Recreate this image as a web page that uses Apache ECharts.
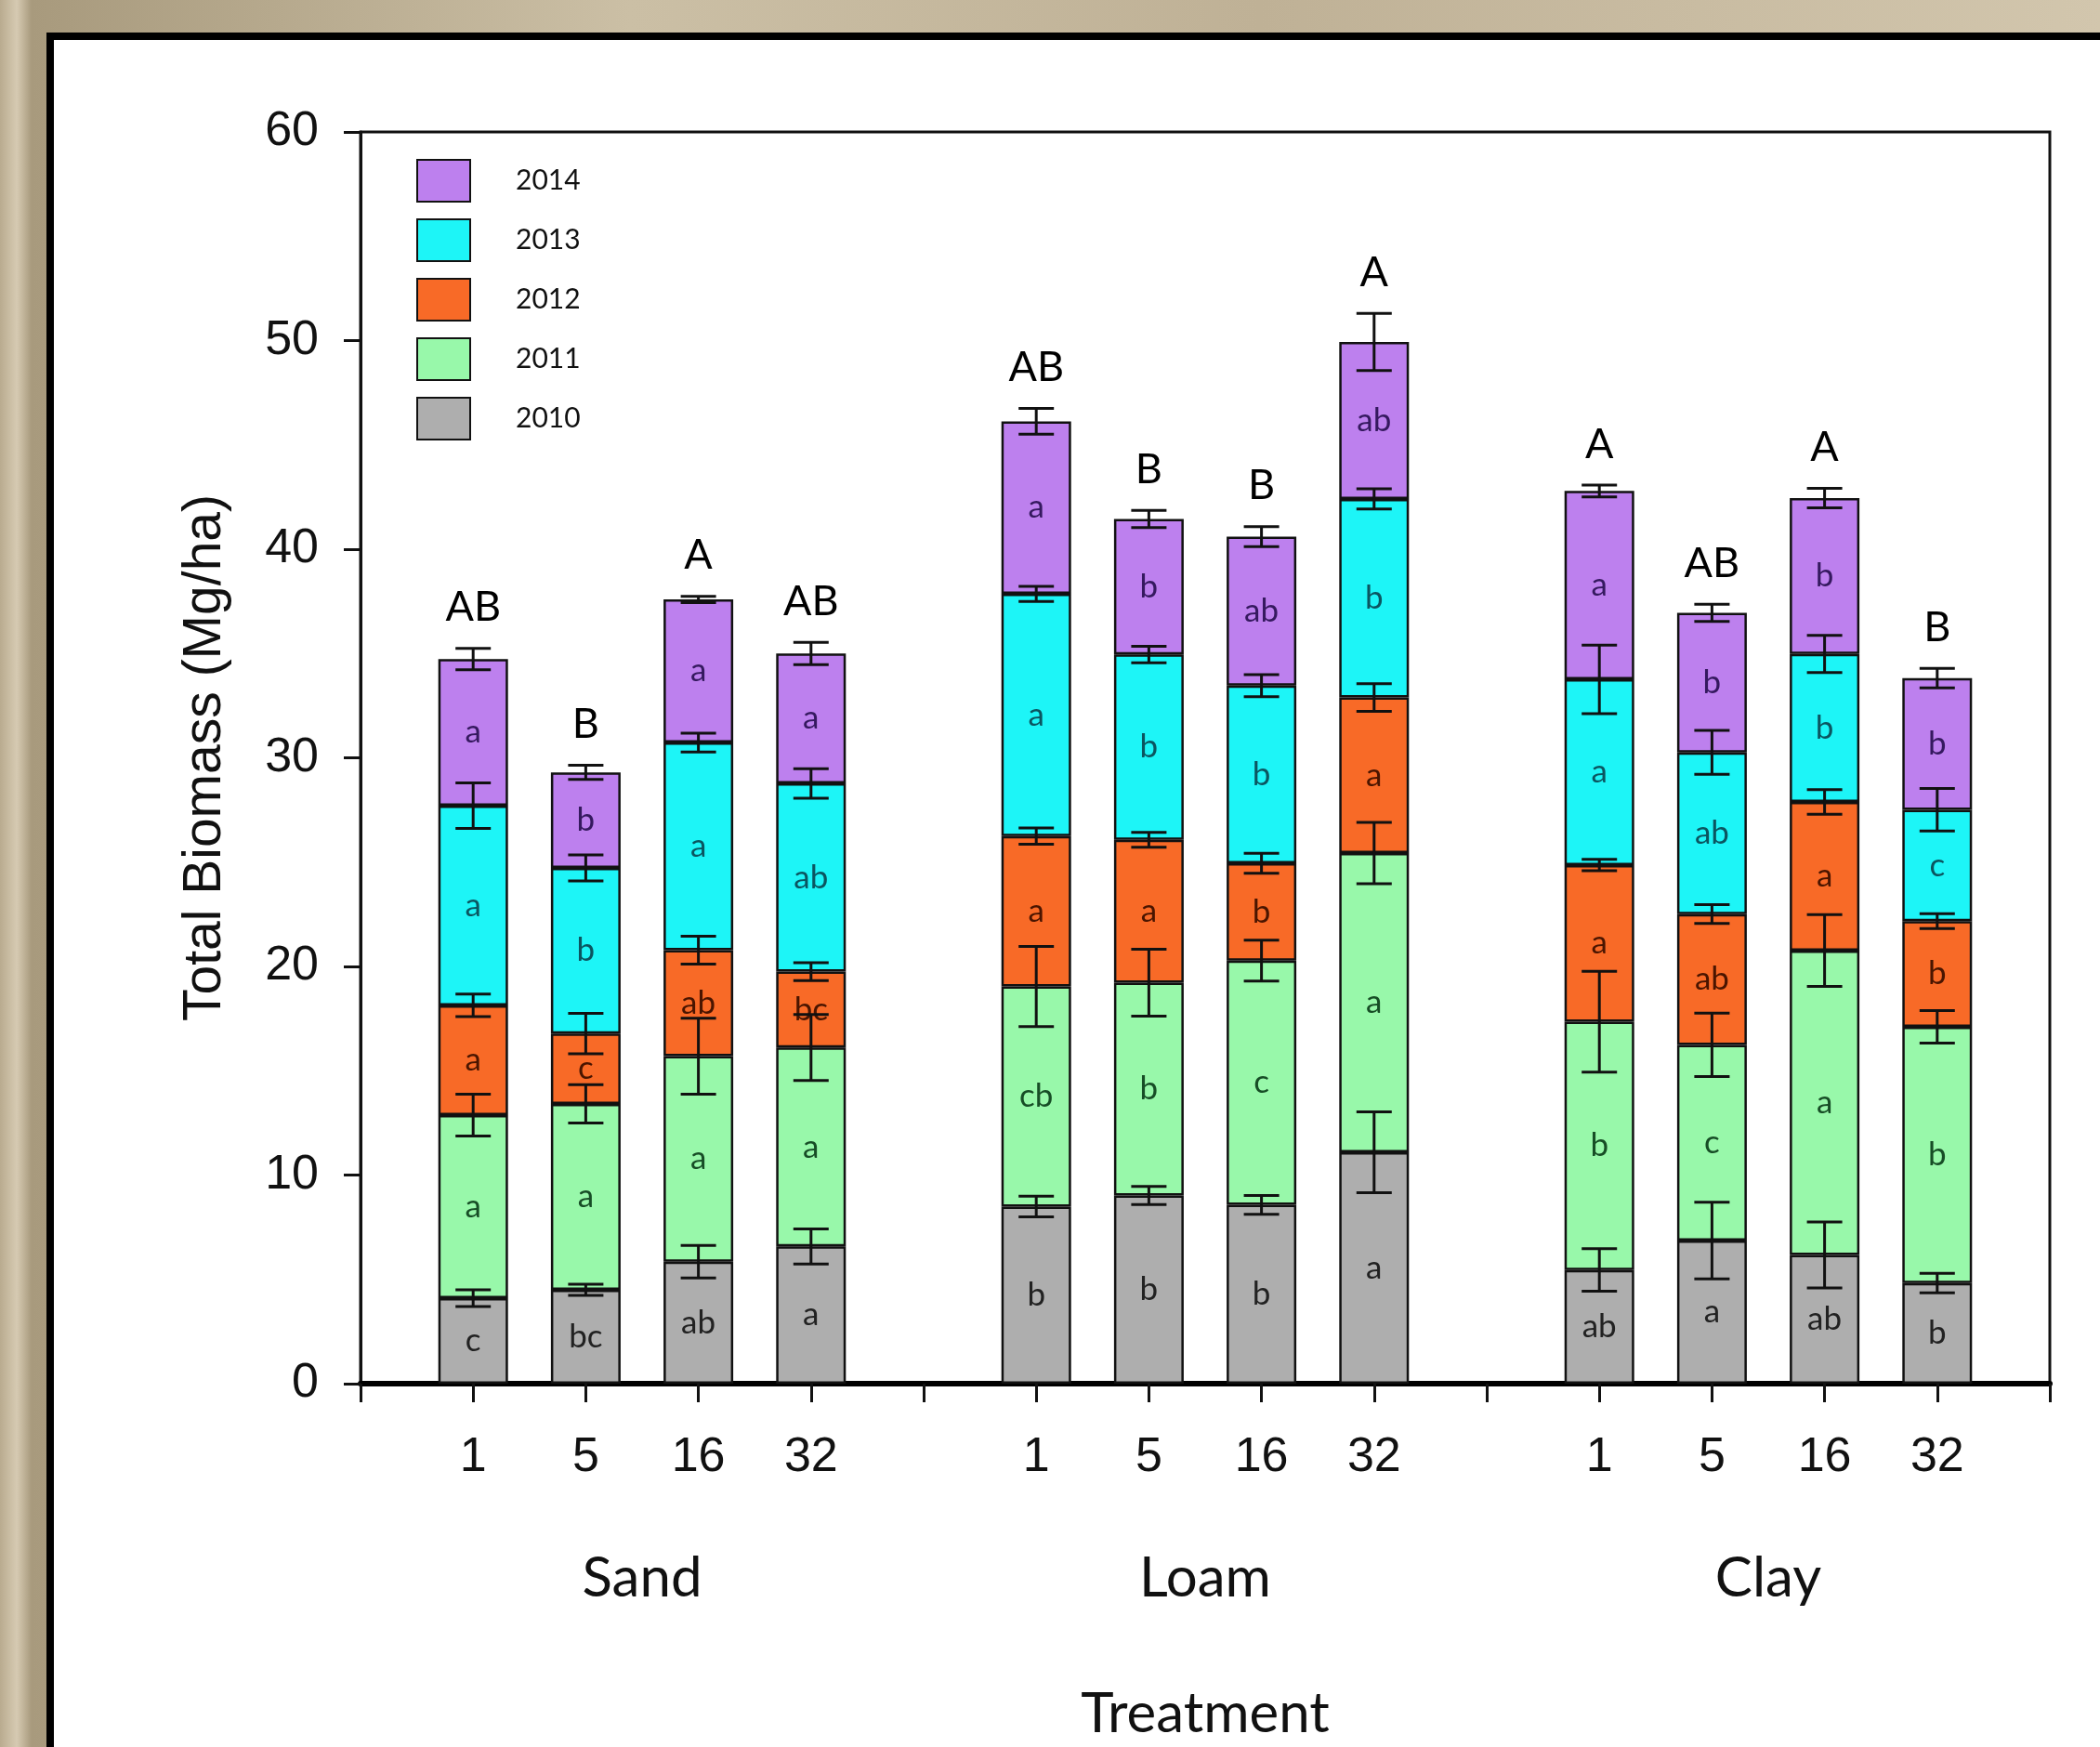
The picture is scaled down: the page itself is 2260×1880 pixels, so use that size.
<!DOCTYPE html>
<html>
<head>
<meta charset="utf-8">
<title>Total Biomass</title>
<script src="https://cdn.jsdelivr.net/npm/echarts@6/dist/echarts.min.js"></script>
<style>
  html, body { margin: 0; padding: 0; }
  #chart { width: 2260px; height: 1880px; }
</style>
</head>
<body>
<div id="chart"></div>
<script>
// soils x application rates, bars stacked by year
const soils = ['Sand', 'Loam', 'Clay'];
const rates = ['1', '5', '16', '32'];
const years = ['2010', '2011', '2012', '2013', '2014'];

// yearly biomass per bar (Sand 1,5,16,32 / Loam ... / Clay ...)
const y2010 = [4.10, 4.50, 5.85, 6.58, 8.49, 9.02, 8.57, 11.09, 5.45, 6.86, 6.17, 4.82];
const y2011 = [8.77, 8.91, 9.85, 9.53, 10.55, 10.20, 11.71, 14.34, 11.90, 9.38, 14.59, 12.28];
const y2012 = [5.26, 3.37, 5.08, 3.64, 7.21, 6.85, 4.66, 7.46, 7.51, 6.27, 7.12, 5.07];
const y2013 = [9.58, 7.94, 9.95, 9.02, 11.61, 8.88, 8.52, 9.52, 8.90, 7.75, 7.10, 5.34];
const y2014 = [7.02, 4.58, 6.86, 6.23, 8.27, 6.50, 7.14, 7.52, 9.03, 6.69, 7.47, 6.31];

// standard errors
const e2010 = [0.40, 0.27, 0.78, 0.84, 0.50, 0.43, 0.45, 1.94, 1.02, 1.84, 1.58, 0.47];
const e2011 = [1.00, 0.92, 1.82, 1.58, 1.92, 1.60, 0.98, 1.47, 2.42, 1.52, 1.72, 0.78];
const e2012 = [0.54, 0.97, 0.67, 0.43, 0.39, 0.36, 0.48, 0.66, 0.27, 0.45, 0.59, 0.36];
const e2013 = [1.09, 0.62, 0.45, 0.71, 0.36, 0.39, 0.53, 0.48, 1.64, 1.05, 0.89, 1.02];
const e2014 = [0.51, 0.34, 0.15, 0.54, 0.62, 0.41, 0.48, 1.37, 0.28, 0.41, 0.47, 0.47];

// significance letters
const l2010 = ['c', 'bc', 'ab', 'a', 'b', 'b', 'b', 'a', 'ab', 'a', 'ab', 'b'];
const l2011 = ['a', 'a', 'a', 'a', 'cb', 'b', 'c', 'a', 'b', 'c', 'a', 'b'];
const l2012 = ['a', 'c', 'ab', 'bc', 'a', 'a', 'b', 'a', 'a', 'ab', 'a', 'b'];
const l2013 = ['a', 'b', 'a', 'ab', 'a', 'b', 'b', 'b', 'a', 'ab', 'b', 'c'];
const l2014 = ['a', 'b', 'a', 'a', 'a', 'b', 'ab', 'ab', 'a', 'b', 'b', 'b'];
const totalLetters = ['AB', 'B', 'A', 'AB', 'AB', 'B', 'B', 'A', 'A', 'AB', 'A', 'B'];

const values = [y2010, y2011, y2012, y2013, y2014];
const errors = [e2010, e2011, e2012, e2013, e2014];
const letters = [l2010, l2011, l2012, l2013, l2014];

const fills = ['#aeaeae', '#98f8aa', '#f86a27', '#1df5f7', '#bd80ee'];
const inkColors = ['#222222', '#174d26', '#4a1500', '#0b5560', '#35195f'];

// x slots: blank, 4 rates, blank, 4 rates, blank, 4 rates, blank
const xLabels = [''];
soils.forEach(() => { rates.forEach(r => xLabels.push(r)); xLabels.push(''); });
const slotOf = i => 1 + Math.floor(i / 4) * 5 + (i % 4);
const barOfSlot = {};
y2010.forEach((v, i) => { barOfSlot[slotOf(i)] = i; });

const chart = echarts.init(document.getElementById('chart'));

const series = years.map((yr, s) => {
  const data = xLabels.map(() => '-');
  values[s].forEach((v, i) => { data[slotOf(i)] = v; });
  return {
    name: yr,
    type: 'bar',
    stack: 'total',
    barWidth: 75,
    data: data,
    itemStyle: { color: fills[s], borderColor: '#111', borderWidth: 2.5 },
    label: {
      show: true,
      position: 'inside',
      fontFamily: 'Lato',
      fontSize: 35,
      color: inkColors[s],
      formatter: p => letters[s][barOfSlot[p.dataIndex]]
    },
    z: 2
  };
});

// error bars sit on the top of every segment
const errData = [];
years.forEach((yr, s) => {
  values[s].forEach((v, i) => {
    let top = 0;
    for (let k = 0; k <= s; k++) top += values[k][i];
    errData.push([slotOf(i), top, errors[s][i]]);
  });
});

series.push({
  type: 'custom',
  data: errData,
  encode: { x: 0, y: 1 },
  z: 5,
  silent: true,
  renderItem: (params, api) => {
    const x = api.value(0), top = api.value(1), e = api.value(2);
    const lo = api.coord([x, top - e]);
    const hi = api.coord([x, top + e]);
    const half = 19;
    const st = { stroke: '#111', lineWidth: 3 };
    return {
      type: 'group',
      children: [
        { type: 'line', shape: { x1: lo[0], y1: lo[1], x2: hi[0], y2: hi[1] }, style: st },
        { type: 'line', shape: { x1: lo[0] - half, y1: lo[1], x2: lo[0] + half, y2: lo[1] }, style: st },
        { type: 'line', shape: { x1: hi[0] - half, y1: hi[1], x2: hi[0] + half, y2: hi[1] }, style: st }
      ]
    };
  }
});

// letters above each whole bar
const topData = totalLetters.map((t, i) => {
  let total = 0;
  values.forEach(arr => { total += arr[i]; });
  return [slotOf(i), total + e2014[i], i];
});

series.push({
  type: 'custom',
  data: topData,
  encode: { x: 0, y: 1 },
  z: 6,
  silent: true,
  renderItem: (params, api) => {
    const p = api.coord([api.value(0), api.value(1)]);
    return {
      type: 'text',
      x: p[0],
      y: p[1] - 44,
      style: {
        text: totalLetters[api.value(2)],
        fontFamily: 'Lato',
        fontSize: 45,
        fill: '#000',
        align: 'center',
        verticalAlign: 'middle'
      }
    };
  }
});

const wood = new echarts.graphic.LinearGradient(0, 0, 1, 0, [
  { offset: 0, color: '#b9ab8f' },
  { offset: 0.008, color: '#d6cab2' },
  { offset: 0.015, color: '#a89a7d' },
  { offset: 0.3, color: '#cbbfa5' },
  { offset: 0.6, color: '#bfb196' },
  { offset: 1, color: '#d2c6ad' }
]);

const option = {
  backgroundColor: wood,
  animation: false,
  graphic: [{
    type: 'rect',
    left: 50,
    top: 35,
    z: -10,
    shape: { width: 2300, height: 1900 },
    style: { fill: '#ffffff', stroke: '#000000', lineWidth: 8 }
  }],
  legend: {
    data: years.slice().reverse(),
    orient: 'vertical',
    left: 448,
    top: 171,
    padding: 0,
    itemWidth: 57,
    itemHeight: 45,
    itemGap: 17,
    icon: 'rect',
    textStyle: { fontFamily: 'Lato', fontSize: 30, color: '#111', padding: [0, 0, 0, 44] }
  },
  grid: {
    left: 388,
    right: 54,
    top: 142,
    bottom: 391,
    show: true,
    borderColor: '#111',
    borderWidth: 3
  },
  xAxis: [{
    type: 'category',
    position: 'bottom',
    data: xLabels,
    boundaryGap: false,
    axisLine: { lineStyle: { color: '#000', width: 6 } },
    axisTick: { interval: 0, length: 20, lineStyle: { color: '#111', width: 3 } },
    axisLabel: { interval: 0, margin: 54, fontFamily: 'Liberation Sans', fontSize: 52, color: '#111' },
    splitLine: { show: false }
  }, {
    type: 'category',
    position: 'bottom',
    data: soils,
    axisLine: { show: false },
    axisTick: { show: false },
    axisLabel: { margin: 180, fontFamily: 'Lato', fontSize: 60, color: '#111' },
    splitLine: { show: false },
    name: 'Treatment',
    nameLocation: 'middle',
    nameGap: 326,
    nameTextStyle: { fontFamily: 'Lato', fontSize: 60, color: '#111' }
  }],
  yAxis: {
    type: 'value',
    min: 0,
    max: 60,
    interval: 10,
    axisLine: { show: true, lineStyle: { color: '#111', width: 3 } },
    axisTick: { show: true, length: 18, lineStyle: { color: '#111', width: 3 } },
    axisLabel: { margin: 45, fontFamily: 'Liberation Sans', fontSize: 52, color: '#111' },
    splitLine: { show: false },
    name: 'Total Biomass (Mg/ha)',
    nameLocation: 'middle',
    nameGap: 138,
    nameTextStyle: { fontFamily: 'Liberation Sans', fontSize: 57, color: '#111' }
  },
  series: series
};

chart.setOption(option);
</script>
</body>
</html>
